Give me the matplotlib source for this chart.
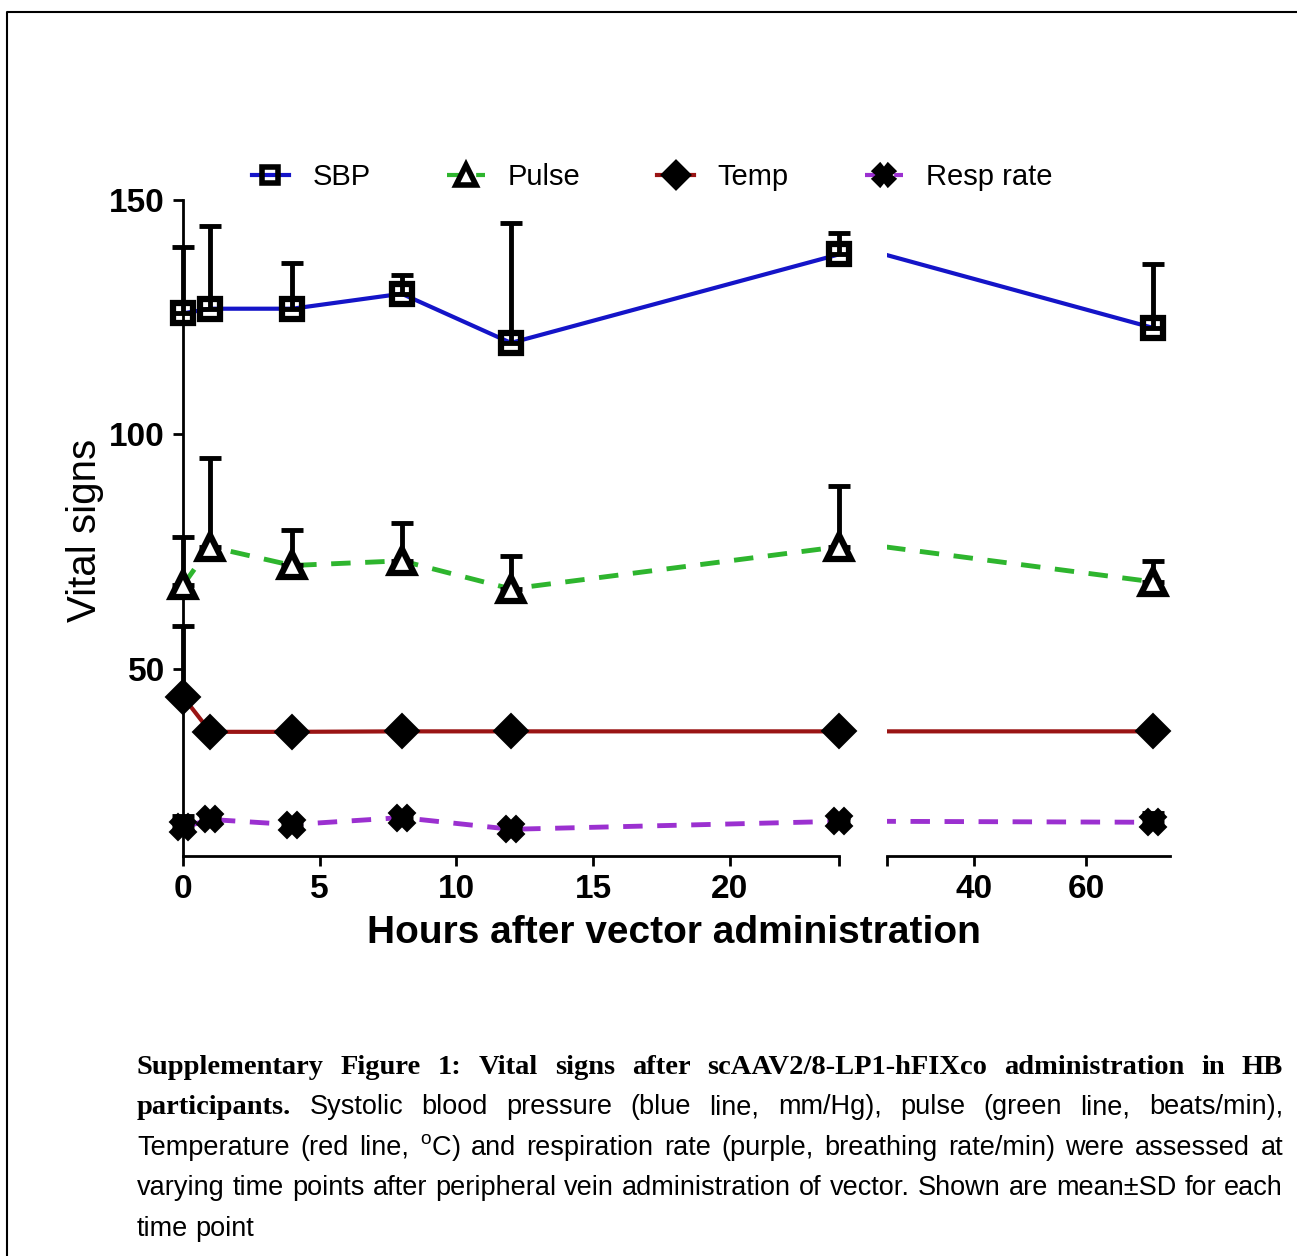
import matplotlib
matplotlib.use("Agg")
import matplotlib.pyplot as plt
import matplotlib.transforms as mtransforms
from matplotlib.lines import Line2D

plt.rcParams['font.family'] = ['Liberation Sans', 'DejaVu Sans']
plt.rcParams['mathtext.fontset'] = 'custom'
plt.rcParams['mathtext.rm'] = 'Liberation Sans'

# data (mean and upper SD)
hours = [0, 1, 4, 8, 12, 24, 72]
sbp = [125.8, 126.8, 126.8, 130.0, 119.5, 138.4, 122.7]
sbp_sd = [14.2, 17.7, 9.7, 4.0, 25.5, 4.6, 13.6]
pulse = [67.8, 76.0, 72.0, 73.0, 67.0, 76.0, 68.5]
pulse_sd = [10.2, 19.0, 7.6, 8.0, 7.0, 13.0, 4.5]
temp = [44.0, 36.5, 36.5, 36.6, 36.6, 36.6, 36.6]
temp_sd = [15.0, 0.3, 0.3, 0.3, 0.3, 0.3, 0.3]
resp = [16.1, 17.8, 16.7, 18.2, 15.7, 17.4, 17.2]
resp_sd = [2.5, 1.0, 1.0, 1.0, 1.0, 1.0, 2.0]

names = ["SBP", "Pulse", "Temp", "Resp rate"]
left_ticks = [0, 5, 10, 15, 20, 24]
left_labels = ["0", "5", "10", "15", "20", ""]
right_ticks = [24.5, 40, 60]
right_labels = ["", "40", "60"]

W, H = 1297, 1256
fig = plt.figure(figsize=(W / 100, H / 100), dpi=100)

styles = [
    dict(color="#1414c8", ls="-", marker="s", ms=14, mfc="none"),
    dict(color="#2eb52e", ls=(0, (4, 3)), marker="^", ms=17, mfc="white"),
    dict(color="#9a1414", ls="-", marker="D", ms=14, mfc="black"),
    dict(color="#9b30d0", ls=(0, (4, 3)), marker="X", ms=15, mfc="black"),
]
series = [(sbp, sbp_sd), (pulse, pulse_sd), (temp, temp_sd), (resp, resp_sd)]

bottom = (H - 856) / H
height = (856 - 200) / H
ax1 = fig.add_axes([183 / W, bottom, (839 - 183) / W, height])
ax2 = fig.add_axes([887 / W, bottom, (1170 - 887) / W, height])


def draw(ax, lo, hi):
    ax.set_xlim(lo, hi)
    ax.set_ylim(10, 150)
    for (mean, sd), st in zip(series, styles):
        lw = 3.5 if st["ls"] != "-" else 3
        ax.plot(hours, mean, color=st["color"], ls=st["ls"], lw=lw, zorder=2)
        idx = [i for i, h in enumerate(hours) if lo - 0.01 <= h <= hi]
        xs = [hours[i] for i in idx]
        ys = [mean[i] for i in idx]
        up = [sd[i] for i in idx]
        eb = ax.errorbar(xs, ys, yerr=[[0] * len(xs), up], fmt="none",
                         ecolor="black", elinewidth=3.5, capsize=8,
                         capthick=3.5, zorder=3)
        for art in list(eb.lines[1]) + list(eb.lines[2]):
            art.set_clip_on(False)
        ax.plot(xs, ys, ls="none", marker=st["marker"], ms=st["ms"],
                mfc=st["mfc"], mec="black", mew=4.5, clip_on=False, zorder=4)
    for s in ["top", "right"]:
        ax.spines[s].set_visible(False)
    ax.spines["bottom"].set_linewidth(2)
    ax.spines["left"].set_linewidth(2)
    ax.tick_params(direction="out", length=7, width=2, labelsize=24, pad=6)


draw(ax1, 0, 24)
ax1.set_xticks(left_ticks)
ax1.set_xticklabels(left_labels, fontweight="bold")
ax1.set_yticks([50, 100, 150])
ax1.set_yticklabels(["50", "100", "150"], fontweight="bold")

draw(ax2, 24.5, 75)
ax2.set_xticks(right_ticks)
ax2.set_xticklabels(right_labels, fontweight="bold")
ax2.spines["left"].set_visible(False)
ax2.set_yticks([])

fig.text(85 / W, 1 - 530 / H, "Vital signs", rotation=90, fontsize=29,
         ha="center", va="center")
fig.text(674 / W, 1 - 933 / H, "Hours after vector administration",
         fontsize=28, fontweight="bold", ha="center", va="center")

handles = []
for name, st in zip(names, styles):
    handles.append(Line2D([], [], color=st["color"], ls=st["ls"], lw=3,
                          marker=st["marker"], ms=st["ms"] * 0.85,
                          mfc=st["mfc"], mec="black", mew=4))
fig.legend(handles, names, loc="center", ncol=4, frameon=False,
           bbox_to_anchor=(652 / W, 1 - 177 / H), fontsize=21,
           handlelength=1.3, handletextpad=0.8, columnspacing=2.6)

# page frame (left and top edge only, rest is cut off)
fig.add_artist(Line2D([7 / W, 7 / W, 1.0], [0, 1 - 12 / H, 1 - 12 / H],
                      transform=fig.transFigure, color="black", lw=1.5))

# caption, justified word by word
caption = [
    ([("Supplementary Figure 1: Vital signs after scAAV2/8-LP1-hFIXco administration in HB", True)], True),
    ([("participants.", True),
      ("Systolic blood pressure (blue line, mm/Hg), pulse (green line, beats/min),", False)], True),
    ([("Temperature (red line, $^{\\mathrm{o}}$C) and respiration rate (purple, breathing rate/min) were assessed at", False)], True),
    ([("varying time points after peripheral vein administration of vector. Shown are mean\u00b1SD for each", False)], True),
    ([("time point", False)], False),
]
cap_y = [1074, 1114, 1155, 1195, 1236]
cap_left, cap_right = 137, 1283
ident = mtransforms.IdentityTransform()
renderer = fig.canvas.get_renderer()

for (parts, full), y in zip(caption, cap_y):
    arts = []
    for text, bold in parts:
        for w in text.split():
            if bold:
                t = fig.text(0, 0, w, fontsize=20.5, fontweight="bold",
                             family="Liberation Serif", transform=ident,
                             va="baseline")
            else:
                t = fig.text(0, 0, w, fontsize=19.5, transform=ident,
                             va="baseline")
            arts.append(t)
    widths = [a.get_window_extent(renderer).width for a in arts]
    if full:
        gap = (cap_right - cap_left - sum(widths)) / (len(arts) - 1)
    else:
        gap = 7
    x = cap_left
    for a, w in zip(arts, widths):
        a.set_position((x, H - y))
        x += w + gap

fig.savefig("out.png", dpi=100, facecolor="white")
